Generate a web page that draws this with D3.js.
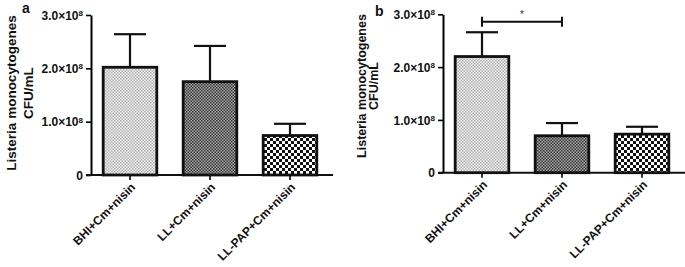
<!DOCTYPE html>
<html>
<head>
<meta charset="utf-8">
<script src="https://cdn.jsdelivr.net/npm/d3@7"></script>
<style>
  body { margin: 0; background: #fff; }
  svg { display: block; font-family: "Liberation Sans", Arial, sans-serif; }
</style>
</head>
<body>
<svg id="chart" width="685" height="267"></svg>
<script>
// data
const categories = ["BHI+Cm+nisin", "LL+Cm+nisin", "LL-PAP+Cm+nisin"];
const meansA = [2.02e8, 1.75e8, 0.74e8];
const errorsA = [0.62e8, 0.67e8, 0.22e8];
const meansB = [2.20e8, 0.70e8, 0.73e8];
const errorsB = [0.46e8, 0.24e8, 0.14e8];
const yTicks = [0, 1e8, 2e8, 3e8];
const sigB = [{ from: 0, to: 1, label: "*" }];

const svg = d3.select("#chart");
const defs = svg.append("defs");

// fill patterns for the 3 groups
function checker(id, size, c1, c2) {
    const p = defs.append("pattern").attr("id", id)
        .attr("patternUnits", "userSpaceOnUse")
        .attr("width", size * 2).attr("height", size * 2);
    p.append("rect").attr("width", size * 2).attr("height", size * 2).attr("fill", c1);
    p.append("rect").attr("width", size).attr("height", size).attr("fill", c2);
    p.append("rect").attr("x", size).attr("y", size).attr("width", size).attr("height", size).attr("fill", c2);
}
checker("pat0", 1.5, "#f2f2f2", "#b0b0b0");
checker("pat1", 1.5, "#aaaaaa", "#333333");
checker("pat2", 3, "#ffffff", "#111111");
const fills = ["url(#pat0)", "url(#pat1)", "url(#pat2)"];

function yLabel(v) {
    return v === 0 ? ["0", null] : [(v / 1e8).toFixed(1) + "\u00d710", "8"];
}

function drawPanel(opt) {
    const g = svg.append("g");
    const x = d3.scaleBand().domain(categories)
        .range([opt.x0 - 1, opt.x0 + 239])
        .paddingInner(0.33).paddingOuter(0.165);
    const y = d3.scaleLinear().domain([0, 3e8]).range([opt.yBottom, opt.yTop]);

    // y axis
    const ya = g.append("g").attr("transform", `translate(${opt.x0},0)`)
        .call(d3.axisLeft(y).tickValues(yTicks).tickSize(5).tickSizeOuter(0).tickFormat(""));
    ya.select(".domain").attr("stroke-width", 2);
    ya.selectAll(".tick line").attr("stroke-width", 1.6);
    ya.selectAll(".tick").append("text")
        .attr("x", -8).attr("dy", "0.35em")
        .attr("text-anchor", "end").attr("fill", "#111")
        .attr("font-size", 12).attr("font-weight", "bold")
        .each(function (d) {
            const t = d3.select(this);
            const [base, sup] = yLabel(d);
            t.append("tspan").text(base);
            if (sup) t.append("tspan").attr("font-size", 8).attr("dy", "-0.45em").text(sup);
        });

    // x axis
    g.append("line")
        .attr("x1", opt.x0 - 5).attr("x2", opt.xEnd)
        .attr("y1", opt.yBottom).attr("y2", opt.yBottom)
        .attr("stroke", "#111").attr("stroke-width", 2);
    const xa = g.append("g").attr("transform", `translate(0,${opt.yBottom})`)
        .call(d3.axisBottom(x).tickSize(5).tickFormat(""));
    xa.select(".domain").remove();
    xa.selectAll(".tick line").attr("stroke-width", 1.6);
    xa.selectAll(".tick").append("text")
        .attr("transform", "translate(3,10) rotate(-45)")
        .attr("text-anchor", "end").attr("dy", "0.35em")
        .attr("fill", "#111").attr("font-size", 12).attr("font-weight", "bold")
        .text(d => d);

    const rows = categories.map((c, i) => ({ c, i, m: opt.means[i], e: opt.errors[i] }));

    // error bars (upper only)
    const eb = g.selectAll(".err").data(rows).join("g").attr("class", "err")
        .attr("stroke", "#111").attr("stroke-width", 2.2);
    eb.append("line")
        .attr("x1", d => x(d.c) + x.bandwidth() / 2).attr("x2", d => x(d.c) + x.bandwidth() / 2)
        .attr("y1", d => y(d.m)).attr("y2", d => y(d.m + d.e));
    eb.append("line")
        .attr("x1", d => x(d.c) + x.bandwidth() / 2 - 16).attr("x2", d => x(d.c) + x.bandwidth() / 2 + 16)
        .attr("y1", d => y(d.m + d.e)).attr("y2", d => y(d.m + d.e));

    // bars
    g.selectAll(".bar").data(rows).join("rect").attr("class", "bar")
        .attr("x", d => x(d.c)).attr("width", x.bandwidth())
        .attr("y", d => y(d.m)).attr("height", d => opt.yBottom - y(d.m))
        .attr("fill", d => fills[d.i])
        .attr("stroke", "#111").attr("stroke-width", 2.8);

    // significance brackets
    (opt.sig || []).forEach(s => {
        const xa1 = x(categories[s.from]) + x.bandwidth() / 2;
        const xa2 = x(categories[s.to]) + x.bandwidth() / 2;
        const yy = opt.sigY;
        const sg = g.append("g").attr("stroke", "#111").attr("stroke-width", 2);
        sg.append("line").attr("x1", xa1).attr("x2", xa2).attr("y1", yy).attr("y2", yy);
        sg.append("line").attr("x1", xa1).attr("x2", xa1).attr("y1", yy - 5).attr("y2", yy + 5);
        sg.append("line").attr("x1", xa2).attr("x2", xa2).attr("y1", yy - 5).attr("y2", yy + 5);
        g.append("text").attr("x", (xa1 + xa2) / 2).attr("y", yy - 4)
            .attr("text-anchor", "middle").attr("font-size", 10).attr("fill", "#333")
            .text(s.label);
    });

    // y title, two lines
    const tt = g.append("text")
        .attr("transform", `translate(${opt.titleX},${opt.titleY}) rotate(-90)`)
        .attr("text-anchor", "middle").attr("font-weight", "bold")
        .attr("font-size", opt.titleSize).attr("fill", "#111");
    tt.append("tspan").attr("x", 0).attr("dy", 0).text("Listeria monocytogenes");
    tt.append("tspan").attr("x", 0).attr("dy", opt.titleGap).text("CFU/mL");

    // panel letter
    g.append("text").attr("x", opt.letterX).attr("y", opt.letterY)
        .attr("font-size", 14).attr("font-weight", "bold").attr("fill", "#111")
        .text(opt.letter);
}

drawPanel({
    x0: 91, xEnd: 333, yBottom: 175, yTop: 15,
    means: meansA, errors: errorsA,
    titleX: 16, titleY: 93, titleSize: 13.5, titleGap: 17,
    letter: "a", letterX: 22, letterY: 13
});

drawPanel({
    x0: 443, xEnd: 685, yBottom: 172.7, yTop: 14.3,
    means: meansB, errors: errorsB, sig: sigB, sigY: 21.7,
    titleX: 366, titleY: 86, titleSize: 12.5, titleGap: 12,
    letter: "b", letterX: 375, letterY: 16
});
</script>
</body>
</html>
